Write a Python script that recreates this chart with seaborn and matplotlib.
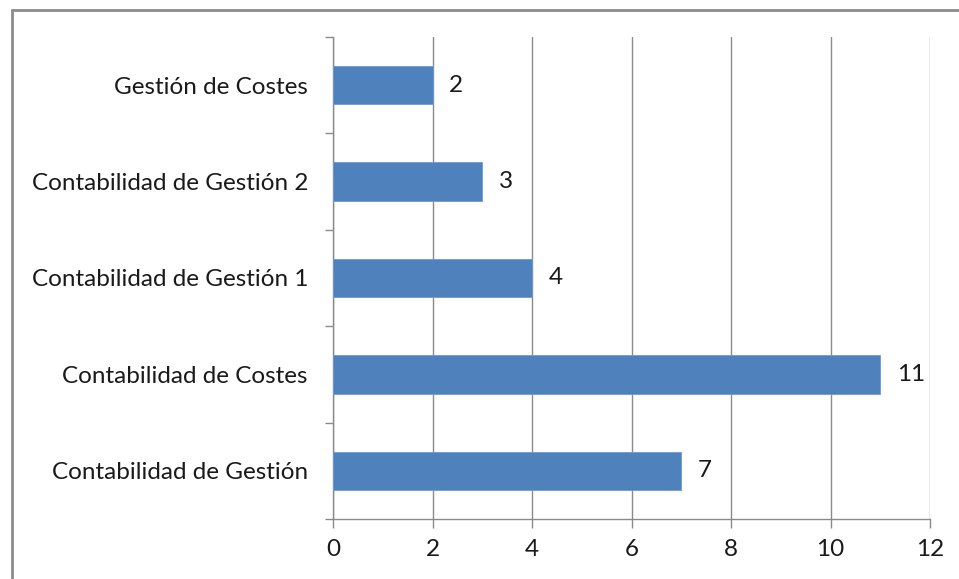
import matplotlib
matplotlib.use("Agg")
import matplotlib.pyplot as plt
import seaborn as sns
import pandas as pd
from matplotlib.lines import Line2D
from matplotlib.ticker import FixedLocator

categories = ["Gestión de Costes", "Contabilidad de Gestión 2", "Contabilidad de Gestión 1",
              "Contabilidad de Costes", "Contabilidad de Gestión"]
values = [2, 3, 4, 11, 7]
xticks = [0, 2, 4, 6, 8, 10, 12]

sns.set_theme(style="white")
plt.rcParams['font.family'] = ['Lato', 'DejaVu Sans']

df = pd.DataFrame({"cat": categories, "val": values})

fig = plt.figure(figsize=(9.59, 5.79), dpi=100)
ax = fig.add_axes([333/959, 60/579, 597/959, 482/579])

bar_color = "#4F81BD"
gray = "#8a8a8a"
fs = 17.5
sns.barplot(data=df, y="cat", x="val", orient="h", color=bar_color, width=0.4,
            saturation=1, ax=ax, edgecolor="#6f9ad0", linewidth=0.6, zorder=3)

ax.set_xlim(0, 12)
ax.set_ylim(4.5, -0.5)
ax.set_xticks(xticks)
ax.set_xticklabels([str(t) for t in xticks])
ax.set_xlabel("")
ax.set_ylabel("")

ax.grid(axis="x", color=gray, linewidth=1.0, zorder=0)
ax.grid(axis="y", visible=False)
ax.set_axisbelow(True)

for s in ["top", "right"]:
    ax.spines[s].set_visible(False)
for s in ["left", "bottom"]:
    ax.spines[s].set_color(gray)
    ax.spines[s].set_linewidth(1.0)

ax.yaxis.set_minor_locator(FixedLocator([-0.5, 0.5, 1.5, 2.5, 3.5, 4.5]))
ax.tick_params(axis="y", which="major", length=0, pad=18, labelsize=fs, labelcolor="#1a1a1a")
ax.tick_params(axis="y", which="minor", length=6, width=1.0, color=gray, direction="out", left=True)
ax.tick_params(axis="x", which="major", length=6.5, width=1.0, color=gray, direction="out",
               bottom=True, pad=8, labelsize=fs, labelcolor="#1a1a1a")

for i, v in enumerate(values):
    ax.annotate(str(v), xy=(v, i), xytext=(12, 0), textcoords="offset points",
                ha="left", va="center", fontsize=fs, color="#1a1a1a")

# outer chart border (left and top edges visible)
fig.add_artist(Line2D([11.5/959, 11.5/959], [0, 1 - 9.5/579], transform=fig.transFigure,
                      color="#8c8c8c", linewidth=2.0))
fig.add_artist(Line2D([11.5/959, 1], [1 - 9.5/579, 1 - 9.5/579], transform=fig.transFigure,
                      color="#8c8c8c", linewidth=2.0))

fig.savefig("out.png", dpi=100, facecolor="white")
